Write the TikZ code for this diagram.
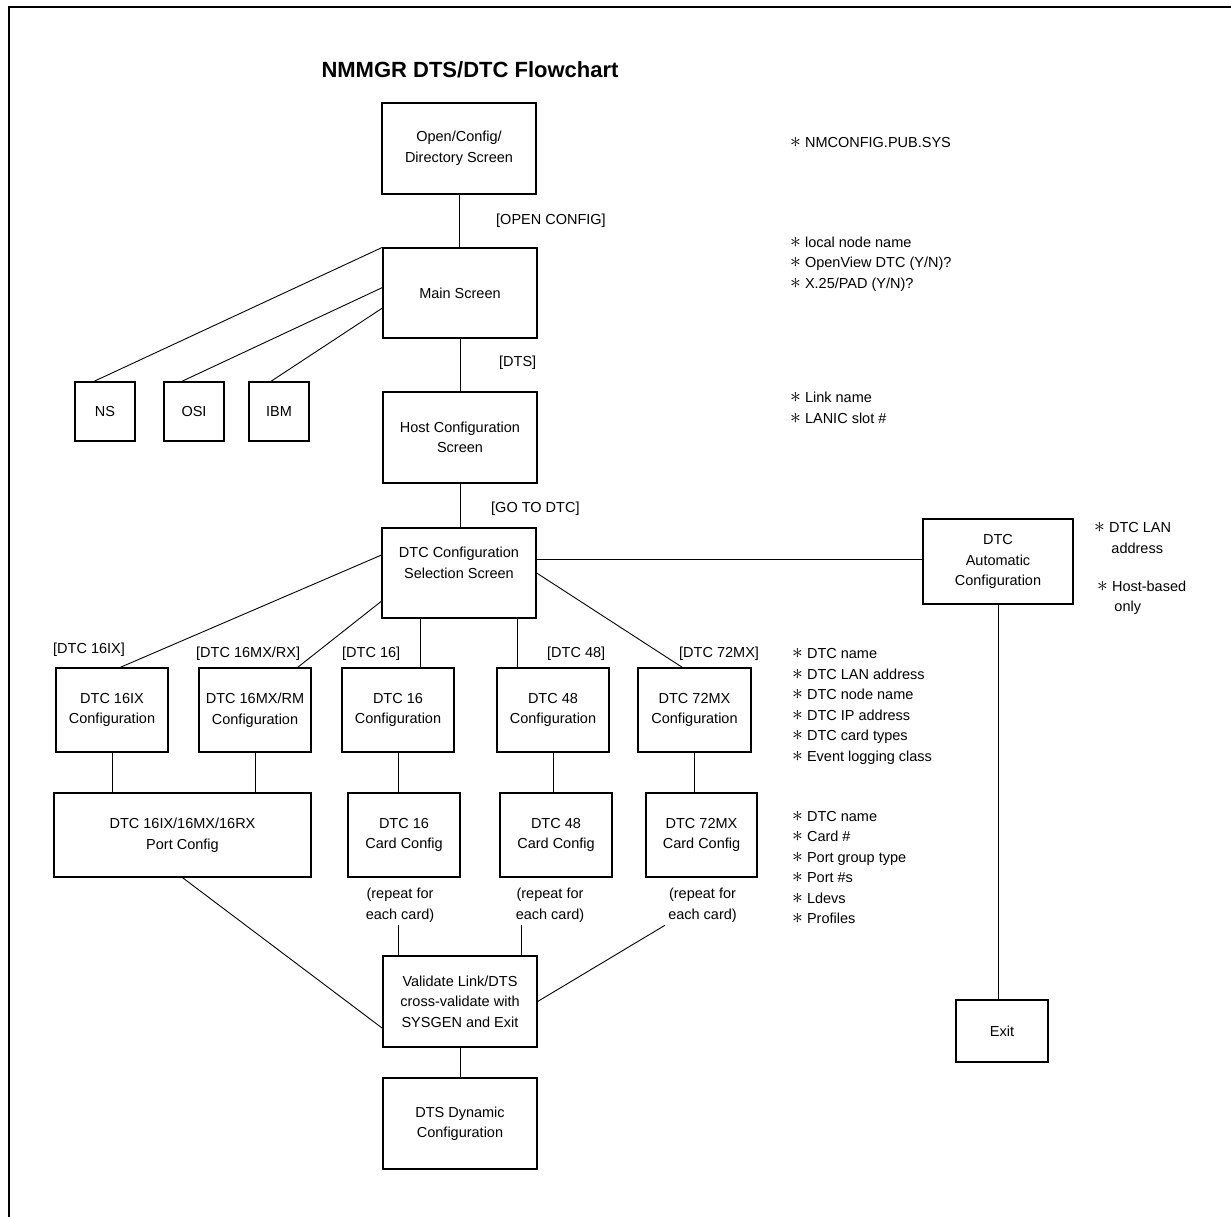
\documentclass[tikz,border=0pt]{standalone}
\usepackage{graphicx}
\usepackage{fontspec}
\setmainfont{Liberation Sans}
\newcommand{\itm}{\scalebox{1.5}{$\ast$}\ }
\begin{document}
\begin{tikzpicture}[x=1pt,y=-1pt,
    txt/.style={font=\fontsize{14.5}{20.5}\selectfont},
    box/.style={draw,line width=1.3pt,align=center,inner sep=0pt},
    bx/.style 2 args={box,minimum width=#1,minimum height=#2},
    lbl/.style={anchor=west,inner sep=0pt},
    note/.style={anchor=west,align=left,inner sep=0pt},
    rep/.style={align=center,inner sep=3pt}]
  \useasboundingbox (0,0) rectangle (1231,1217);
  \draw[line width=2.2pt] (9,1240) -- (9,7) -- (1245,7);
  \draw[txt]
    (470,70) node[font=\bfseries\fontsize{22}{26}\selectfont] (title) {NMMGR DTS/DTC Flowchart}
    (459,148.5) node[bx={154}{91}] (opendir) {Open/Config/\\Directory Screen}
    (460,293) node[bx={154}{90}] (mainscr) {Main Screen}
    (460,437.5) node[bx={154}{91}] (hostcfg) {Host Configuration\\Screen}
    (459,573) node[bx={154}{90}] (dtcsel) {DTC Configuration\\Selection Screen\\ \mbox{}}
    (105,411.5) node[bx={60}{59}] (ns) {NS}
    (194,411.5) node[bx={60}{59}] (osi) {OSI}
    (279,411.5) node[bx={60}{59}] (ibm) {IBM}
    (112,710) node[bx={112}{84}] (cfg16ix) {DTC 16IX\\Configuration}
    (255,710) node[bx={112}{84}] (cfg16mx) {DTC 16MX/RM\\Configuration}
    (398,710) node[bx={112}{84}] (cfg16) {DTC 16\\Configuration}
    (553,710) node[bx={112}{84}] (cfg48) {DTC 48\\Configuration}
    (694.5,710) node[bx={113}{84}] (cfg72) {DTC 72MX\\Configuration}
    (182.5,835) node[bx={257}{84}] (portcfg) {DTC 16IX/16MX/16RX\\Port Config}
    (404,835) node[bx={112}{84}] (card16) {DTC 16\\Card Config}
    (556,835) node[bx={112}{84}] (card48) {DTC 48\\Card Config}
    (701.5,835) node[bx={111}{84}] (card72) {DTC 72MX\\Card Config}
    (400,905) node[rep] (rep16) {(repeat for\\each card)}
    (550,905) node[rep] (rep48) {(repeat for\\each card)}
    (702.5,905) node[rep] (rep72) {(repeat for\\each card)}
    (460,1001.5) node[bx={154}{91}] (validate) {Validate Link/DTS\\cross-validate with\\SYSGEN and Exit}
    (460,1123.5) node[bx={154}{91}] (dtsdyn) {DTS Dynamic\\Configuration}
    (998,561.5) node[bx={150}{85}] (autocfg) {DTC\\Automatic\\Configuration}
    (1002,1031) node[bx={92}{62}] (exitbox) {Exit};
  % labels on the connectors
  \draw[txt]
    (496,221) node[lbl] (lblopen) {[OPEN CONFIG]}
    (499,363) node[lbl] (lbldts) {[DTS]}
    (491,509) node[lbl] (lblgoto) {[GO TO DTC]}
    (53,650) node[lbl] (lbl16ix) {[DTC 16IX]}
    (196,654) node[lbl] (lbl16mx) {[DTC 16MX/RX]}
    (342,654) node[lbl] (lbl16) {[DTC 16]}
    (547,654) node[lbl] (lbl48) {[DTC 48]}
    (679,654) node[lbl] (lbl72) {[DTC 72MX]};
  % notes on the right
  \draw[txt]
    (790,143) node[note] (notecfg) {\itm NMCONFIG.PUB.SYS}
    (790,264) node[note] (notemain) {\itm local node name\\\itm OpenView DTC (Y/N)?\\\itm X.25/PAD (Y/N)?}
    (790,408) node[note] (notehost) {\itm Link name\\\itm LANIC slot \#}
    (1094,538) node[note] (notelan) {\itm DTC LAN\\\phantom{\itm}\,address}
    (1097,597.5) node[note] (notehb) {\itm Host-based\\\phantom{\itm}\,only}
    (792,706.5) node[note] (notedtc) {\itm DTC name\\\itm DTC LAN address\\\itm DTC node name\\\itm DTC IP address\\\itm DTC card types\\\itm Event logging class}
    (792,867.5) node[note] (notecard) {\itm DTC name\\\itm Card \#\\\itm Port group type\\\itm Port \#s\\\itm Ldevs\\\itm Profiles};
  \begin{scope}[line width=0.9pt]
    \draw (opendir.south) -- (opendir.south |- mainscr.north);
    \draw (mainscr.south) -- (mainscr.south |- hostcfg.north);
    \draw (hostcfg.south) -- (hostcfg.south |- dtcsel.north);
    \draw (mainscr.north west) -- (ns.110);
    \draw (mainscr.176) -- (osi.112);
    \draw (mainscr.191) -- (ibm.105);
    \draw (dtcsel.167) -- (cfg16ix.79);
    \draw (dtcsel.200) -- (cfg16mx.45);
    \draw (dtcsel.230) -- (dtcsel.230 |- cfg16.north);
    \draw (dtcsel.322) -- (dtcsel.322 |- cfg48.north);
    \draw (dtcsel.east) -- (cfg72.106);
    \draw (dtcsel.10) -- (dtcsel.10 -| autocfg.west);
    \draw (autocfg.south) -- (autocfg.south |- exitbox.north);
    \draw (cfg16ix.south) -- (cfg16ix.south |- portcfg.north);
    \draw (cfg16mx.south) -- (cfg16mx.south |- portcfg.north);
    \draw (cfg16.south) -- (cfg16.south |- card16.north);
    \draw (cfg48.south) -- (cfg48.south |- card48.north);
    \draw (cfg72.south) -- (cfg72.south |- card72.north);
    \draw (portcfg.south) -- (validate.199);
    \draw (validate.143) -- (validate.143 |- rep16.south);
    \draw (validate.37) -- (validate.37 |- rep48.south);
    \draw (rep72.south west) -- (validate.east);
    \draw (validate.south) -- (dtsdyn.north);
  \end{scope}
\end{tikzpicture}
\end{document}
